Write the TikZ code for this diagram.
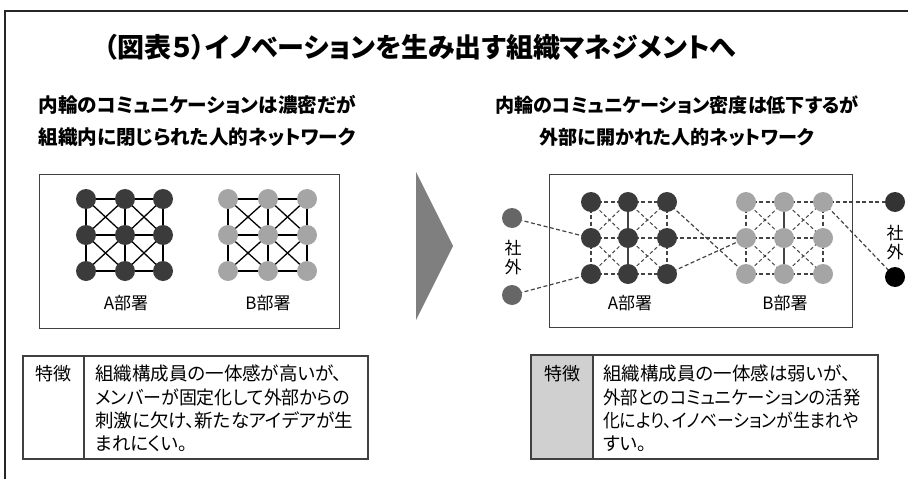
\documentclass[tikz,border=0pt]{standalone}
\usepackage{fontspec}
\usepackage{graphicx}
\setmainfont{Noto Sans CJK JP}[RawFeature=+palt]
\usetikzlibrary{backgrounds}
\definecolor{adark}{HTML}{3B3B3B}
\definecolor{blight}{HTML}{A5A5A5}
\definecolor{extgray}{HTML}{666666}
\definecolor{extdark}{HTML}{333333}
\definecolor{linegray}{HTML}{444444}
\definecolor{boxline}{HTML}{404040}
\definecolor{cellgray}{HTML}{D0D0D0}
\definecolor{arrowgray}{HTML}{7F7F7F}
\newcommand{\fs}[2]{\fontsize{#1}{#2}\selectfont}
\tikzset{
  dot/.style={circle, inner sep=0pt, minimum size=20pt, draw=none},
  adot/.style={dot, fill=adark},
  bdot/.style={dot, fill=blight},
  solidlink/.style={draw=black, line width=1.3pt},
  dashlink/.style={draw=linegray, line width=1.2pt, dash pattern=on 4pt off 2.5pt},
  diaglink/.style={draw=linegray, line width=1pt, dash pattern=on 3.5pt off 2.5pt},
  midlink/.style={draw=linegray, line width=1.2pt},
  netbox/.style={draw=boxline, line width=1pt},
  tabbox/.style={draw=boxline, line width=1.6pt},
  txt/.style={inner sep=0pt, anchor=base west, font=\fs{18.5}{22}},
  ctxt/.style={inner sep=0pt, anchor=base},
  headl/.style={ctxt, font=\fs{19.6}{22}\bfseries},
  headr/.style={ctxt, font=\fs{19.1}{22}\bfseries},
  lbl/.style={ctxt, font=\fs{17}{20}},
  vtxt/.style={inner sep=0pt, align=center, font=\fs{17}{19}},
}
\begin{document}
\begin{tikzpicture}[x=1pt,y=-1pt]
\useasboundingbox (0,0) rectangle (908,479);
% outer frame
\draw[line width=1.5pt, draw=black!85] (4,11) -- (908,11);
\draw[line width=1.5pt, draw=black!85] (5,11) -- (5,479);

% title and headings
\node[ctxt, font=\fs{27}{30}\bfseries] (title) at (420,57) {（図表５）イノベーションを生み出す組織マネジメントへ};
\node[headl] (lh1) at (197,112) {内輪のコミュニケーションは濃密だが};
\node[headl] (lh2) at (197,144) {組織内に閉じられた人的ネットワーク};
\node[headr] (rh1) at (677,112) {内輪のコミュニケーション密度は低下するが};
\node[headr] (rh2) at (677,144) {外部に開かれた人的ネットワーク};

% boxes
\draw[netbox] (39,174) rectangle (339,328);
\draw[netbox] (549,174) rectangle (852,327);

% arrow triangle
\fill[arrowgray] (416,172) -- (453,246) -- (416,320) -- cycle;

% left grids
\foreach \x [count=\i] in {86,125,163}
  \foreach \y [count=\j] in {199,235,271}
    \node[adot] (la\i\j) at (\x,\y) {};
\foreach \x [count=\i] in {228,268,307}
  \foreach \y [count=\j] in {199,235,271}
    \node[bdot] (lb\i\j) at (\x,\y) {};

\begin{pgfonlayer}{background}
\foreach \g in {la,lb}{
  \foreach \a/\b in {1/2,2/3}{
    \foreach \k in {1,2,3}{
      \draw[solidlink] (\g\a\k.center) -- (\g\b\k.center);
      \draw[solidlink] (\g\k\a.center) -- (\g\k\b.center);
    }
    \foreach \c/\d in {1/2,2/3}{
      \draw[solidlink] (\g\a\c.center) -- (\g\b\d.center);
      \draw[solidlink] (\g\a\d.center) -- (\g\b\c.center);
    }
  }
}
\end{pgfonlayer}

\node[lbl] (lalabel) at (126,309) {A部署};
\node[lbl] (lblabel) at (268,309) {B部署};

% right grids
\foreach \x [count=\i] in {591,628,667}
  \foreach \y [count=\j] in {202,238,274}
    \node[adot] (ra\i\j) at (\x,\y) {};
\foreach \x [count=\i] in {746,784,823}
  \foreach \y [count=\j] in {202,238,274}
    \node[bdot] (rb\i\j) at (\x,\y) {};

\node[dot, fill=extgray] (ext1) at (512,218) {};
\node[dot, fill=extgray] (ext2) at (512,295) {};
\node[dot, fill=extdark] (ext3) at (895,202) {};
\node[dot, fill=black] (ext4) at (895,277) {};

\begin{pgfonlayer}{background}
\foreach \g in {ra,rb}{
  \foreach \a/\b in {1/2,2/3}{
    \foreach \k in {1,2,3}{
      \draw[dashlink] (\g\a\k.center) -- (\g\b\k.center);
    }
    \foreach \c/\d in {1/2,2/3}{
      \draw[diaglink] (\g\a\c.center) -- (\g\b\d.center);
      \draw[diaglink] (\g\a\d.center) -- (\g\b\c.center);
    }
  }
  \foreach \a/\b in {1/2,2/3}{
    \draw[dashlink] (\g1\a.center) -- (\g1\b.center);
    \draw[midlink] (\g2\a.center) -- (\g2\b.center);
    \draw[dashlink] (\g3\a.center) -- (\g3\b.center);
  }
}
\draw[dashlink] (ext1.center) -- (ra12.center);
\draw[dashlink] (ext2.center) -- (ra13.center);
\draw[dashlink] (ra31.center) -- (rb13.center);
\draw[dashlink] (ra32.center) -- (rb12.center);
\draw[dashlink] (ra33.center) -- (rb12.center);
\draw[dashlink] (rb31.center) -- (ext3.center);
\draw[dashlink] (rb31.center) -- (ext4.center);
\end{pgfonlayer}

\node[lbl] (ralabel) at (630,309) {A部署};
\node[lbl] (rblabel) at (785,309) {B部署};
\node[vtxt] (extl) at (513,258) {社\\外};
\node[vtxt] (extr) at (895,243) {社\\外};

% bottom tables
\draw[tabbox] (23,356) rectangle (368,459);
\draw[tabbox] (84,356) -- (84,459);
\node[ctxt, font=\fs{18}{22}] (lfeat) at (53,380) {特徴};
\node[txt] (lt1) at (95,380) {組織構成員の一体感が高いが、};
\node[txt] (lt2) at (95,404) {\scalebox{0.97}[1]{メンバーが固定化して外部からの}};
\node[txt] (lt3) at (95,427) {刺激に欠け、新たなアイデアが生};
\node[txt] (lt4) at (95,450) {まれにくい。};

\fill[cellgray] (531,355) rectangle (593,459);
\draw[tabbox] (531,355) rectangle (878,459);
\draw[tabbox] (593,355) -- (593,459);
\node[ctxt, font=\fs{18}{22}] (rfeat) at (562,380) {特徴};
\node[txt] (rt1) at (603,380) {組織構成員の一体感は弱いが、};
\node[txt] (rt2) at (603,404) {\scalebox{0.94}[1]{外部とのコミュニケーションの活発}};
\node[txt] (rt3) at (603,427) {\scalebox{0.91}[1]{化により、イノベーションが生まれや}};
\node[txt] (rt4) at (603,450) {すい。};
\end{tikzpicture}
\end{document}
